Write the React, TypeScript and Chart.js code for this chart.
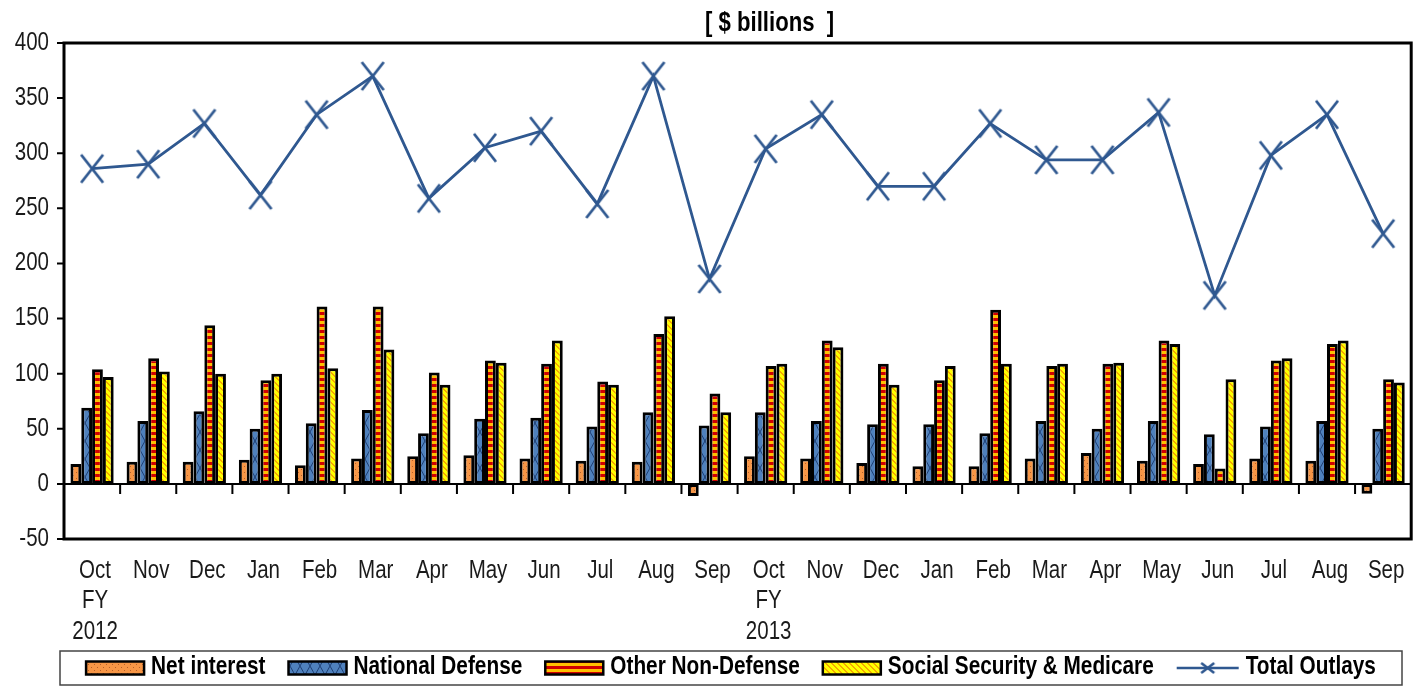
import React, { useEffect, useRef } from "react";
import { Chart, registerables } from "chart.js";

Chart.register(...registerables);

const categories: (string | string[])[] = [
  ["Oct", "FY", "2012"], "Nov", "Dec", "Jan", "Feb", "Mar", "Apr", "May", "Jun", "Jul", "Aug", "Sep",
  ["Oct", "FY", "2013"], "Nov", "Dec", "Jan", "Feb", "Mar", "Apr", "May", "Jun", "Jul", "Aug", "Sep",
];

const netInterest = [18, 20, 20, 22, 17, 23, 25, 26, 23, 21, 20, -11, 25, 23, 19, 16, 16, 23, 28, 21, 18, 23, 21, -9];
const nationalDefense = [69, 57, 66, 50, 55, 67, 46, 59, 60, 52, 65, 53, 65, 57, 54, 54, 46, 57, 50, 57, 45, 52, 57, 50];
const otherNonDefense = [104, 114, 144, 94, 161, 161, 101, 112, 109, 93, 136, 82, 107, 130, 109, 94, 158, 107, 109, 130, 14, 112, 127, 95];
const socialSecurityMedicare = [97, 102, 100, 100, 105, 122, 90, 110, 130, 90, 152, 65, 109, 124, 90, 107, 109, 109, 110, 127, 95, 114, 130, 92];
const totalOutlays = [286, 290, 327, 262, 335, 370, 259, 305, 320, 254, 370, 186, 304, 335, 270, 270, 327, 294, 294, 337, 171, 298, 335, 227];

const yTicks = [-50, 0, 50, 100, 150, 200, 250, 300, 350, 400];
const seriesNames = ["Net interest", "National Defense", "Other Non-Defense", "Social Security & Medicare", "Total Outlays"];
const titleText = "[ $ billions  ]";

const FONT = "'Liberation Sans', Arial, sans-serif";
const NARROW = 0.82;
const LEGEND_NARROW = 0.8;
const LINE_COLOR = "#2F5890";
const TEXT_COLOR = "#1a1a1a";

function tile(w: number, h: number, draw: (c: CanvasRenderingContext2D) => void): HTMLCanvasElement {
  const c = document.createElement("canvas");
  c.width = w;
  c.height = h;
  draw(c.getContext("2d")!);
  return c;
}

function makePatterns(ctx: CanvasRenderingContext2D) {
  const dots = tile(6, 6, (c) => {
    c.fillStyle = "#F79646";
    c.fillRect(0, 0, 6, 6);
    c.fillStyle = "#B5602A";
    c.fillRect(1, 1, 1, 1);
    c.fillRect(4, 4, 1, 1);
  });
  const lattice = tile(10, 18, (c) => {
    c.fillStyle = "#4F81BD";
    c.fillRect(0, 0, 10, 18);
    c.strokeStyle = "#1F3F74";
    c.lineWidth = 1;
    c.beginPath();
    c.moveTo(0, 0);
    c.lineTo(10, 18);
    c.moveTo(10, 0);
    c.lineTo(0, 18);
    c.stroke();
  });
  const stripes = tile(6, 6, (c) => {
    c.fillStyle = "#FFC000";
    c.fillRect(0, 0, 6, 6);
    c.fillStyle = "#D00000";
    c.fillRect(0, 0, 6, 3);
  });
  const diag = tile(6, 6, (c) => {
    c.fillStyle = "#FFFF00";
    c.fillRect(0, 0, 6, 6);
    c.fillStyle = "#F5A800";
    for (let y = 0; y < 6; y++) {
      for (let x = 0; x < 6; x++) {
        if ((x - y + 12) % 6 < 2) c.fillRect(x, y, 1, 1);
      }
    }
  });
  return [dots, lattice, stripes, diag].map((t) => ctx.createPattern(t, "repeat")!);
}

function makeMarker(w: number, h: number, lw: number): HTMLCanvasElement {
  return tile(w, h, (c) => {
    c.strokeStyle = LINE_COLOR;
    c.lineWidth = lw;
    c.beginPath();
    c.moveTo(2, 2);
    c.lineTo(w - 2, h - 2);
    c.moveTo(w - 2, 2);
    c.lineTo(2, h - 2);
    c.stroke();
  });
}

function narrowText(ctx: CanvasRenderingContext2D, text: string, x: number, y: number, align: CanvasTextAlign, sx = NARROW) {
  ctx.save();
  ctx.translate(x, y);
  ctx.scale(sx, 1);
  ctx.textAlign = align;
  ctx.textBaseline = "middle";
  ctx.fillText(text, 0, 0);
  ctx.restore();
}

const framePlugin = {
  id: "frame",
  beforeDatasetsDraw(chart: any) {
    const { ctx, chartArea, scales } = chart;
    const y0 = scales.y.getPixelForValue(0);
    ctx.save();
    ctx.strokeStyle = "#000";
    ctx.lineWidth = 2;
    ctx.beginPath();
    ctx.moveTo(chartArea.left, y0);
    ctx.lineTo(chartArea.right, y0);
    const n = categories.length;
    for (let i = 1; i < n; i++) {
      const x = (scales.x.getPixelForValue(i - 1) + scales.x.getPixelForValue(i)) / 2;
      ctx.moveTo(x, y0);
      ctx.lineTo(x, y0 + 10);
    }
    ctx.stroke();
    ctx.restore();
  },
  afterDraw(chart: any) {
    const { ctx, chartArea, scales } = chart;
    ctx.save();

    // y ticks + labels
    ctx.strokeStyle = "#000";
    ctx.lineWidth = 2;
    ctx.beginPath();
    yTicks.forEach((v) => {
      const py = scales.y.getPixelForValue(v);
      ctx.moveTo(chartArea.left - 7, py);
      ctx.lineTo(chartArea.left, py);
    });
    ctx.stroke();
    ctx.fillStyle = TEXT_COLOR;
    ctx.font = `25px ${FONT}`;
    yTicks.forEach((v) => {
      narrowText(ctx, String(v), chartArea.left - 15, scales.y.getPixelForValue(v), "right");
    });

    // x labels
    categories.forEach((lab, i) => {
      const px = scales.x.getPixelForValue(i);
      const lines = Array.isArray(lab) ? lab : [lab];
      lines.forEach((t, j) => {
        narrowText(ctx, t, px + 3, chartArea.bottom + 32 + j * 30.5, "center");
      });
    });

    // frame
    ctx.strokeStyle = "#000";
    ctx.lineWidth = 3;
    ctx.strokeRect(chartArea.left, chartArea.top, chartArea.right - chartArea.left, chartArea.bottom - chartArea.top);

    // title
    ctx.fillStyle = "#000";
    ctx.font = `bold 27px ${FONT}`;
    narrowText(ctx, titleText, (chartArea.left + chartArea.right) / 2 + 32, 24, "center");

    // legend
    const fills = chart.data.datasets.map((d: any) => d.backgroundColor);
    const boxL = 60, boxR = 1402, boxT = 651, boxB = 685;
    ctx.strokeStyle = "#444";
    ctx.lineWidth = 1.5;
    ctx.strokeRect(boxL, boxT, boxR - boxL, boxB - boxT);
    ctx.font = `bold 26px ${FONT}`;
    const sw = 58, gap = 7, itemGap = 23;
    const widths = seriesNames.map((s, i) => sw + gap + (i === 4 ? 4 : 0) + ctx.measureText(s).width * LEGEND_NARROW);
    const total = widths.reduce((a, b) => a + b, 0) + itemGap * (widths.length - 1);
    let x = (boxL + boxR) / 2 - total / 2;
    const cy = (boxT + boxB) / 2;
    const mk = makeMarker(17, 14, 2.5);
    seriesNames.forEach((name, i) => {
      if (i < 4) {
        ctx.fillStyle = fills[i];
        ctx.fillRect(x, cy - 6.5, sw, 13);
        ctx.strokeStyle = "#000";
        ctx.lineWidth = 2.5;
        ctx.strokeRect(x, cy - 6.5, sw, 13);
      } else {
        ctx.strokeStyle = LINE_COLOR;
        ctx.lineWidth = 2.5;
        ctx.beginPath();
        ctx.moveTo(x, cy);
        ctx.lineTo(x + sw + 4, cy);
        ctx.stroke();
        ctx.drawImage(mk, x + (sw + 4) / 2 - 8.5, cy - 7);
      }
      ctx.fillStyle = "#000";
      narrowText(ctx, name, x + sw + gap + (i === 4 ? 4 : 0), cy - 1, "left", LEGEND_NARROW);
      x += widths[i] + itemGap;
    });
    ctx.restore();
  },
};

export default function App() {
  const ref = useRef<HTMLCanvasElement | null>(null);

  useEffect(() => {
    const canvas = ref.current!;
    const ctx = canvas.getContext("2d")!;
    const [pDots, pLattice, pStripes, pDiag] = makePatterns(ctx);
    const marker = makeMarker(26, 32, 2.8);

    const barCommon = {
      type: "bar" as const,
      borderColor: "#000",
      borderWidth: 3,
      borderSkipped: false,
      categoryPercentage: 0.77,
      barPercentage: 1.0,
      order: 1,
    };

    const chart = new Chart(ctx, {
      data: {
        labels: categories,
        datasets: [
          { ...barCommon, label: seriesNames[0], data: netInterest, backgroundColor: pDots },
          { ...barCommon, label: seriesNames[1], data: nationalDefense, backgroundColor: pLattice },
          { ...barCommon, label: seriesNames[2], data: otherNonDefense, backgroundColor: pStripes },
          { ...barCommon, label: seriesNames[3], data: socialSecurityMedicare, backgroundColor: pDiag },
          {
            type: "line",
            label: seriesNames[4],
            data: totalOutlays,
            borderColor: LINE_COLOR,
            backgroundColor: LINE_COLOR,
            borderWidth: 2.8,
            pointStyle: marker as any,
            pointRadius: 13,
            tension: 0,
            order: 0,
          },
        ] as any,
      },
      options: {
        animation: false,
        responsive: false,
        layout: { padding: { left: 0, top: 43, right: 12, bottom: 41 } },
        plugins: {
          legend: { display: false },
          title: { display: false },
          tooltip: { enabled: false },
        },
        scales: {
          x: {
            offset: true,
            grid: { display: false },
            border: { display: false },
            ticks: { display: false, autoSkip: false },
            afterFit: (s: any) => {
              s.height = 106;
            },
          },
          y: {
            min: -50,
            max: 400,
            grid: { display: false },
            border: { display: false },
            ticks: { display: false, stepSize: 50 },
            afterFit: (s: any) => {
              s.width = 64;
            },
          },
        },
      },
      plugins: [framePlugin],
    });
    return () => chart.destroy();
  }, []);

  return (
    <canvas
      ref={ref}
      width={1427}
      height={686}
      style={{ position: "absolute", left: 0, top: 0, width: 1427, height: 686, background: "#fff" }}
    />
  );
}
